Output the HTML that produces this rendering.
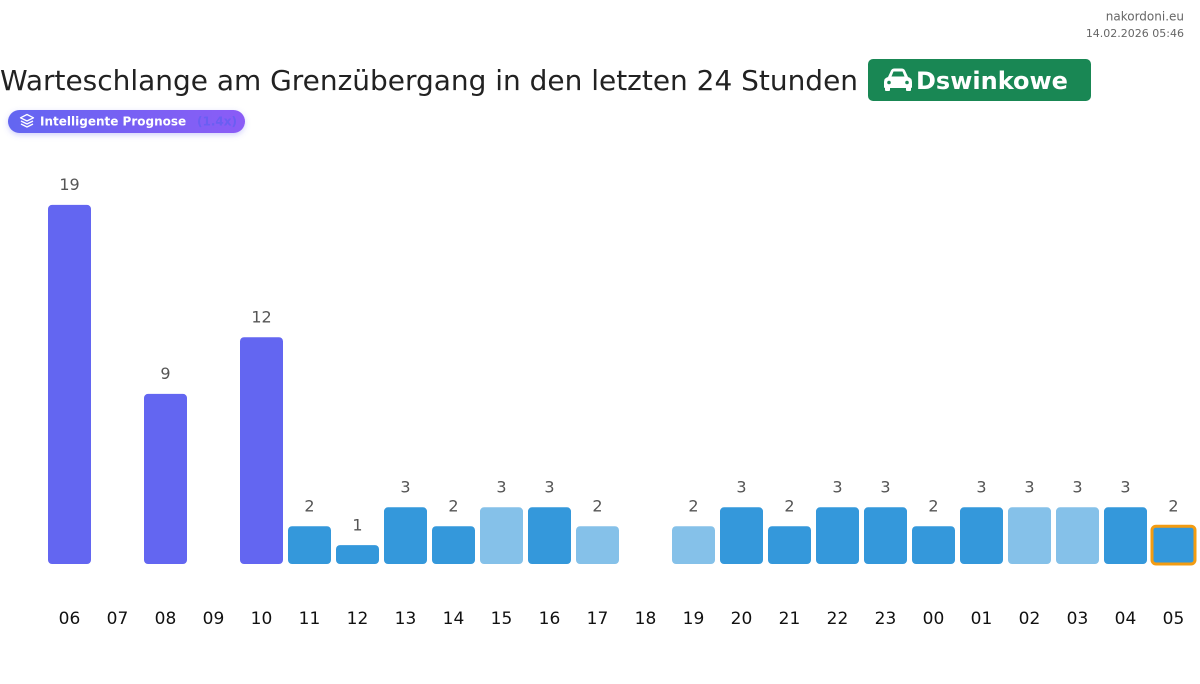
<!DOCTYPE html>
<html><head><meta charset="utf-8"><style>
html,body{margin:0;padding:0;background:#fff;}
body{width:1200px;height:684px;overflow:hidden;position:relative;font-family:"DejaVu Sans","Liberation Sans",sans-serif;}
svg{position:absolute;left:0;top:0;}
</style></head><body>
<svg width="1200" height="684" viewBox="0 0 1200 684" xmlns="http://www.w3.org/2000/svg" font-family="DejaVu Sans, Liberation Sans, sans-serif">
<defs>
<linearGradient id="pg" x1="0" y1="0" x2="1" y2="0"><stop offset="0" stop-color="#6366f1"/><stop offset="1" stop-color="#8b5cf6"/></linearGradient>
<filter id="sh" x="-10%" y="-50%" width="120%" height="200%"><feDropShadow dx="0" dy="2" stdDeviation="3" flood-color="#6366f1" flood-opacity="0.3"/></filter>
</defs>
<text x="1184" y="20.5" font-size="12" fill="#666" text-anchor="end">nakordoni.eu</text>
<text x="1184" y="37" font-size="11" fill="#666" text-anchor="end">14.02.2026 05:46</text>
<text x="0" y="90" font-size="28" fill="#222" textLength="858" lengthAdjust="spacingAndGlyphs">Warteschlange am Grenzübergang in den letzten 24 Stunden</text>
<rect x="868" y="59" width="223" height="42" rx="5" fill="#198754"/>
<g fill="#fff">
<path d="M888,77 L891,70.5 Q892,68.5 894.5,68.5 L901.5,68.5 Q904,68.5 905,70.5 L908,77 Q912,78 912,82 L912,87 Q912,88 911,88 L885,88 Q884,88 884,87 L884,82 Q884,78 888,77 Z"/>
<rect x="885" y="87" width="5" height="4" rx="1"/>
<rect x="906" y="87" width="5" height="4" rx="1"/>
</g>
<path d="M891.5,76.5 L893.5,71.5 L902.5,71.5 L904.5,76.5 Z" fill="#198754"/>
<circle cx="889" cy="82.5" r="1.8" fill="#198754"/>
<circle cx="907" cy="82.5" r="1.8" fill="#198754"/>
<text x="916" y="89" font-size="24" font-weight="bold" fill="#fff">Dswinkowe</text>
<rect x="8" y="110" width="237" height="23" rx="11.5" fill="url(#pg)" filter="url(#sh)"/>
<g fill="none" stroke="#fff" stroke-width="1.3" stroke-linejoin="round">
<path d="M27,114.5 L33.5,117.8 L27,121 L20.5,117.8 Z"/>
<path d="M21,121 L27,124 L33,121"/>
<path d="M21,124 L27,127 L33,124"/>
</g>
<text x="40" y="125.5" font-size="12" font-weight="bold" fill="#fff">Intelligente Prognose</text>
<text x="197" y="125.5" font-size="12" font-weight="bold" fill="#6a5ef2">(1.4x)</text>
<g transform="translate(0.5,0)">
<g font-size="16" fill="#555" text-anchor="middle">
<rect x="47.5" y="204.9" width="43" height="359.1" rx="4" fill="#6366f1"/><text x="69" y="190">19</text>
<rect x="143.5" y="393.9" width="43" height="170.1" rx="4" fill="#6366f1"/><text x="165" y="379">9</text>
<rect x="239.5" y="337.2" width="43" height="226.8" rx="4" fill="#6366f1"/><text x="261" y="322.5">12</text>
<rect x="287.5" y="526.2" width="43" height="37.8" rx="4" fill="#3498db"/><text x="309" y="511.5">2</text>
<rect x="335.5" y="545.1" width="43" height="18.9" rx="4" fill="#3498db"/><text x="357" y="530.5">1</text>
<rect x="383.5" y="507.3" width="43" height="56.7" rx="4" fill="#3498db"/><text x="405" y="492.5">3</text>
<rect x="431.5" y="526.2" width="43" height="37.8" rx="4" fill="#3498db"/><text x="453" y="511.5">2</text>
<rect x="479.5" y="507.3" width="43" height="56.7" rx="4" fill="#85c1e9"/><text x="501" y="492.5">3</text>
<rect x="527.5" y="507.3" width="43" height="56.7" rx="4" fill="#3498db"/><text x="549" y="492.5">3</text>
<rect x="575.5" y="526.2" width="43" height="37.8" rx="4" fill="#85c1e9"/><text x="597" y="511.5">2</text>
<rect x="671.5" y="526.2" width="43" height="37.8" rx="4" fill="#85c1e9"/><text x="693" y="511.5">2</text>
<rect x="719.5" y="507.3" width="43" height="56.7" rx="4" fill="#3498db"/><text x="741" y="492.5">3</text>
<rect x="767.5" y="526.2" width="43" height="37.8" rx="4" fill="#3498db"/><text x="789" y="511.5">2</text>
<rect x="815.5" y="507.3" width="43" height="56.7" rx="4" fill="#3498db"/><text x="837" y="492.5">3</text>
<rect x="863.5" y="507.3" width="43" height="56.7" rx="4" fill="#3498db"/><text x="885" y="492.5">3</text>
<rect x="911.5" y="526.2" width="43" height="37.8" rx="4" fill="#3498db"/><text x="933" y="511.5">2</text>
<rect x="959.5" y="507.3" width="43" height="56.7" rx="4" fill="#3498db"/><text x="981" y="492.5">3</text>
<rect x="1007.5" y="507.3" width="43" height="56.7" rx="4" fill="#85c1e9"/><text x="1029" y="492.5">3</text>
<rect x="1055.5" y="507.3" width="43" height="56.7" rx="4" fill="#85c1e9"/><text x="1077" y="492.5">3</text>
<rect x="1103.5" y="507.3" width="43" height="56.7" rx="4" fill="#3498db"/><text x="1125" y="492.5">3</text>
<rect x="1151.5" y="526.2" width="43" height="37.8" rx="4" fill="#3498db" stroke="#f39c12" stroke-width="3"/><text x="1173" y="511.5">2</text>
</g>
<g font-size="17" fill="#111" text-anchor="middle">
<text x="69" y="624">06</text><text x="117" y="624">07</text><text x="165" y="624">08</text><text x="213" y="624">09</text>
<text x="261" y="624">10</text><text x="309" y="624">11</text><text x="357" y="624">12</text><text x="405" y="624">13</text>
<text x="453" y="624">14</text><text x="501" y="624">15</text><text x="549" y="624">16</text><text x="597" y="624">17</text>
<text x="645" y="624">18</text><text x="693" y="624">19</text><text x="741" y="624">20</text><text x="789" y="624">21</text>
<text x="837" y="624">22</text><text x="885" y="624">23</text><text x="933" y="624">00</text><text x="981" y="624">01</text>
<text x="1029" y="624">02</text><text x="1077" y="624">03</text><text x="1125" y="624">04</text><text x="1173" y="624">05</text>
</g>
</g>
</svg>
</body></html>
